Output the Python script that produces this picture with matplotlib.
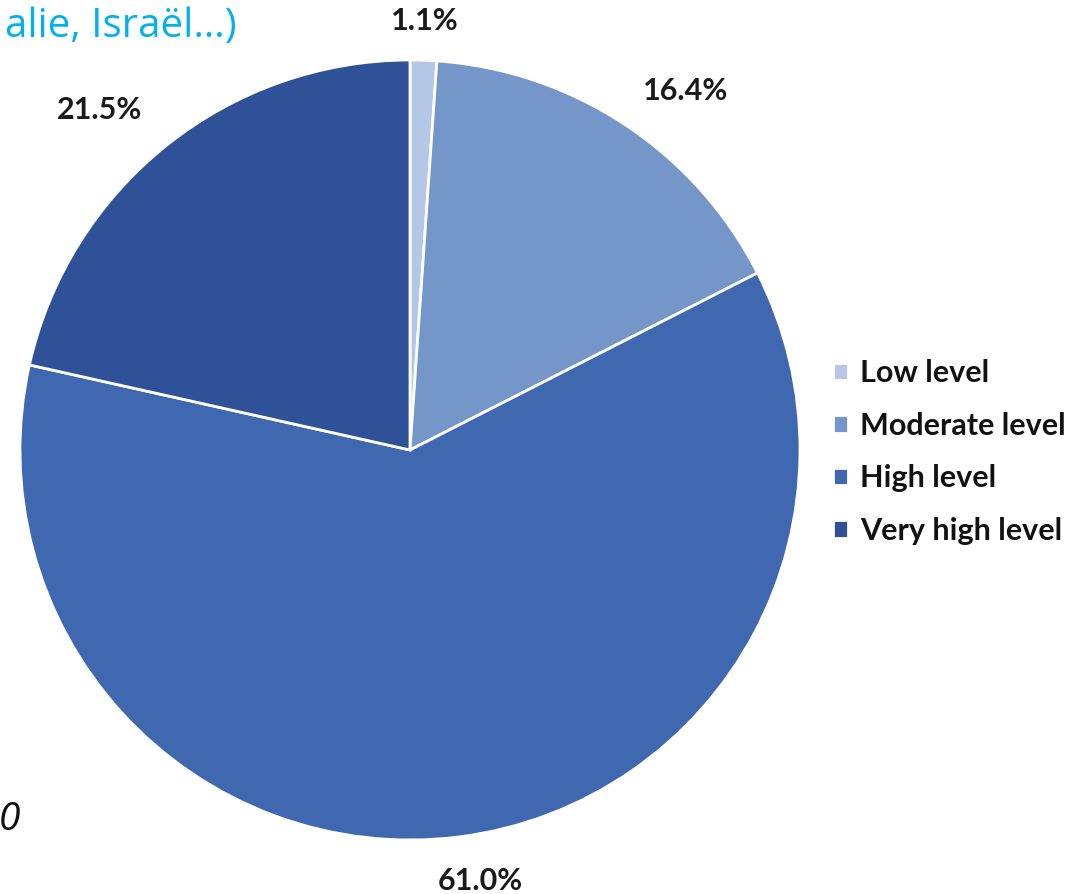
import matplotlib
matplotlib.use('Agg')
import numpy as np
import matplotlib.pyplot as plt

categories = ['Low level', 'Moderate level', 'High level', 'Very high level']
shares = [1.1, 16.4, 61.0, 21.5]
colors = ['#b4c7e7', '#7596c8', '#3f68b0', '#2e5197']
# label placement (Excel "best fit"): distance factor and angle shift per slice
label_dist = [1.10, 1.16, 1.12, 1.18]
label_shift = [0, -4, 2, 3.7]

plt.rcParams['font.family'] = ['Lato', 'DejaVu Sans']

fig = plt.figure(figsize=(10.86, 8.94), dpi=100)
ax = fig.add_axes([20 / 1086, 54 / 894, 780 / 1086, 780 / 894])

wedges, _ = ax.pie(shares, colors=colors, startangle=90, counterclock=False,
                   wedgeprops=dict(edgecolor='white', linewidth=2))
ax.set_aspect('equal')
ax.set_xlim(-1, 1)
ax.set_ylim(-1, 1)

for w, v, d, s in zip(wedges, shares, label_dist, label_shift):
    ang = np.deg2rad((w.theta1 + w.theta2) / 2 + s)
    ax.text(d * np.cos(ang), d * np.sin(ang), '{:.1f}%'.format(v),
            ha='center', va='center', fontsize=22, fontweight='bold',
            color='#1a1a1a', clip_on=False)

leg = fig.legend(wedges, categories, loc='center left',
                 bbox_to_anchor=(805 / 1086, 1 - 452 / 894), frameon=False,
                 prop=dict(size=22, weight='bold'), handlelength=0.5,
                 handleheight=0.5, handletextpad=0.4, labelspacing=0.8)
for t in leg.get_texts():
    t.set_color('#111111')

fig.text(237 / 1086, 1 - 27 / 894, 'alie, Israël…)', ha='right', va='center',
         fontsize=29, color='#00b0f0', family='Open Sans')
fig.text(20 / 1086, 1 - 820 / 894, '0', ha='right', va='center',
         fontsize=28, style='italic', color='#111111', family='Open Sans')

fig.savefig('out.png', dpi=100)
